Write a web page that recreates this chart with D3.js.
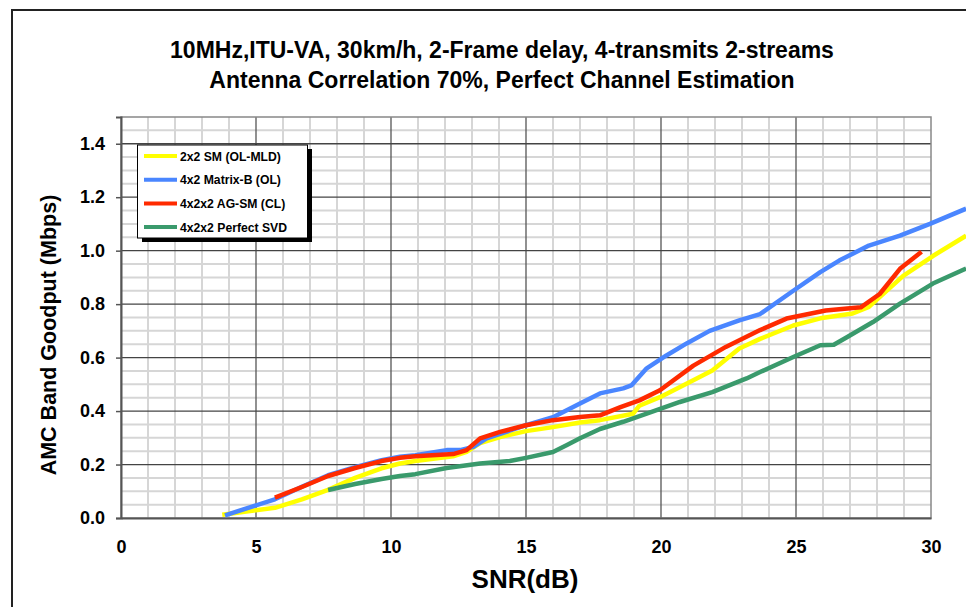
<!DOCTYPE html>
<html><head><meta charset="utf-8">
<script src="https://cdn.jsdelivr.net/npm/d3@7"></script>
<style>body{margin:0;background:#fff}svg{display:block;font-family:"Liberation Sans",Arial,sans-serif}</style>
</head><body>
<svg id="c" width="966" height="607"></svg>
<script>
const titleLines = ["10MHz,ITU-VA, 30km/h, 2-Frame delay, 4-transmits 2-streams","Antenna Correlation 70%, Perfect Channel Estimation"];
const xLabel = "SNR(dB)";
const yLabel = "AMC Band Goodput (Mbps)";
const xTicks = [0,5,10,15,20,25,30];
const yTicks = [0,0.2,0.4,0.6,0.8,1.0,1.2,1.4];
const seriesNames = ["2x2 SM (OL-MLD)","4x2 Matrix-B (OL)","4x2x2 AG-SM (CL)","4x2x2 Perfect SVD"];
const seriesColors = ["#ffff00","#4a86ff","#ff2a00","#3a9a6c"];

const snrYellow = [3.75,5.7,6.7,7.67,8.67,9.65,10.33,10.9,12.3,12.8,13.3,14.04,15.0,16.0,17.0,17.74,18.97,19.2,19.96,21.07,21.9,22.9,23.67,24.9,25.9,27.1,27.7,28.97,30.07,31.3];
const valYellow = [0.012,0.038,0.07,0.105,0.15,0.186,0.204,0.213,0.231,0.247,0.28,0.303,0.325,0.34,0.357,0.366,0.39,0.42,0.452,0.509,0.552,0.634,0.67,0.72,0.747,0.765,0.79,0.906,0.98,1.056];

const snrBlue = [3.85,5.7,6.7,7.67,8.67,9.65,10.33,10.9,12.06,12.56,13.05,13.54,15.0,16.0,17.0,17.74,18.6,18.9,19.47,20.2,20.95,21.8,22.9,23.67,24.9,25.9,26.6,27.7,28.85,29.96,31.3];
const valBlue = [0.01,0.07,0.117,0.16,0.19,0.216,0.229,0.235,0.254,0.254,0.266,0.298,0.347,0.377,0.428,0.466,0.485,0.496,0.56,0.608,0.653,0.70,0.739,0.763,0.85,0.92,0.963,1.019,1.056,1.10,1.157];

const snrRed = [5.7,6.7,7.67,8.67,9.65,10.33,10.9,12.3,12.8,13.3,14.04,15.0,16.0,17.0,17.74,18.5,19.2,19.96,21.2,22.4,23.67,24.65,26.1,27.4,28.1,28.85,29.65];
const valRed = [0.076,0.116,0.157,0.187,0.213,0.225,0.231,0.239,0.254,0.298,0.322,0.347,0.366,0.378,0.384,0.415,0.44,0.478,0.57,0.64,0.703,0.746,0.776,0.788,0.838,0.932,0.996];

const snrGreen = [7.67,8.67,9.65,10.33,10.9,12.06,13.3,14.4,15.0,16.0,16.5,17.0,17.74,18.6,19.47,20.7,21.9,23.17,23.67,24.9,25.9,26.4,26.9,27.85,28.85,30.07,31.3];
const valGreen = [0.105,0.127,0.146,0.157,0.164,0.187,0.204,0.213,0.225,0.247,0.272,0.298,0.333,0.36,0.39,0.434,0.471,0.522,0.546,0.602,0.646,0.648,0.677,0.733,0.802,0.877,0.933];

const seriesData = [[snrYellow,valYellow],[snrBlue,valBlue],[snrRed,valRed],[snrGreen,valGreen]];

const svg = d3.select("#c");
const L=121, R=931, T=117, B=518;
const x = d3.scaleLinear().domain([0,30]).range([L,R]);
const y = d3.scaleLinear().domain([0,1.5]).range([B,T]);

// outer frame
svg.append("rect").attr("x",12).attr("y",10).attr("width",980).attr("height",620)
  .attr("fill","none").attr("stroke","#222").attr("stroke-width",2);

// minor grid
const g = svg.append("g");
g.selectAll("line.mx").data(d3.range(1,31).filter(v=>v%5!==0)).join("line")
  .attr("x1",d=>x(d)).attr("x2",d=>x(d)).attr("y1",T).attr("y2",B)
  .attr("stroke","#d6d6d6").attr("stroke-width",2);
g.selectAll("line.my").data(d3.range(1,30).map(i=>i*0.05).filter((v,i)=>(i+1)%4!==0)).join("line")
  .attr("x1",L).attr("x2",R).attr("y1",d=>y(d)).attr("y2",d=>y(d))
  .attr("stroke","#d6d6d6").attr("stroke-width",2);
// major grid
g.selectAll("line.Mx").data([5,10,15,20,25]).join("line")
  .attr("x1",d=>x(d)).attr("x2",d=>x(d)).attr("y1",T).attr("y2",B)
  .attr("stroke","#555").attr("stroke-width",1.3);
g.selectAll("line.My").data([0.2,0.4,0.6,0.8,1.0,1.2,1.4]).join("line")
  .attr("x1",L).attr("x2",R).attr("y1",d=>y(d)).attr("y2",d=>y(d))
  .attr("stroke","#444").attr("stroke-width",1.3);
// plot border
svg.append("rect").attr("x",L).attr("y",T).attr("width",R-L).attr("height",B-T)
  .attr("fill","none").attr("stroke","#888").attr("stroke-width",1.5);

// axes
const xAxis = svg.append("g").attr("transform",`translate(0,${B})`)
  .call(d3.axisBottom(x).tickValues(xTicks).tickSize(0).tickPadding(22).tickFormat(d3.format("d")));
const yAxis = svg.append("g").attr("transform",`translate(${L},0)`)
  .call(d3.axisLeft(y).tickValues(yTicks).tickSize(5).tickPadding(11).tickFormat(d3.format(".1f")));
[xAxis,yAxis].forEach(a=>{
  a.select(".domain").attr("stroke","#555").attr("stroke-width",2);
  a.selectAll(".tick line").attr("stroke","#555").attr("stroke-width",1.5);
  a.selectAll("text").attr("font-family","Liberation Sans, Arial, sans-serif").attr("font-weight","bold").attr("font-size",18).attr("fill","#000");
});

// lines
const line = d3.line().x(d=>x(d[0])).y(d=>y(d[1]));
seriesData.forEach((s,i)=>{
  const pts = s[0].map((v,j)=>[v,s[1][j]]);
  svg.append("path").datum(pts).attr("d",line).attr("fill","none")
    .attr("stroke",seriesColors[i]).attr("stroke-width",4.5).attr("stroke-linejoin","round");
});

// titles
svg.selectAll("text.title").data(titleLines).join("text")
  .attr("x",502).attr("y",(d,i)=>58+i*30).attr("text-anchor","middle")
  .attr("font-weight","bold").attr("font-size",23).text(d=>d);
svg.append("text").attr("x",525).attr("y",588).attr("text-anchor","middle")
  .attr("font-weight","bold").attr("font-size",26).text(xLabel);
svg.append("text").attr("transform","translate(56,335) rotate(-90)").attr("text-anchor","middle")
  .attr("font-weight","bold").attr("font-size",21.5).text(yLabel);

// legend
const lg = svg.append("g");
lg.append("rect").attr("x",142).attr("y",149).attr("width",170).attr("height",93).attr("fill","#000");
lg.append("rect").attr("x",137.5).attr("y",145).attr("width",170).attr("height",93).attr("fill","#fff").attr("stroke","#000").attr("stroke-width",1);
seriesNames.forEach((n,i)=>{
  const yy = 156 + i*23.7;
  lg.append("line").attr("x1",144).attr("x2",177).attr("y1",yy).attr("y2",yy)
    .attr("stroke",seriesColors[i]).attr("stroke-width",4);
  lg.append("text").attr("x",180).attr("y",yy+4.5).attr("font-weight","bold").attr("font-size",12.2).text(n);
});
</script>
</body></html>
